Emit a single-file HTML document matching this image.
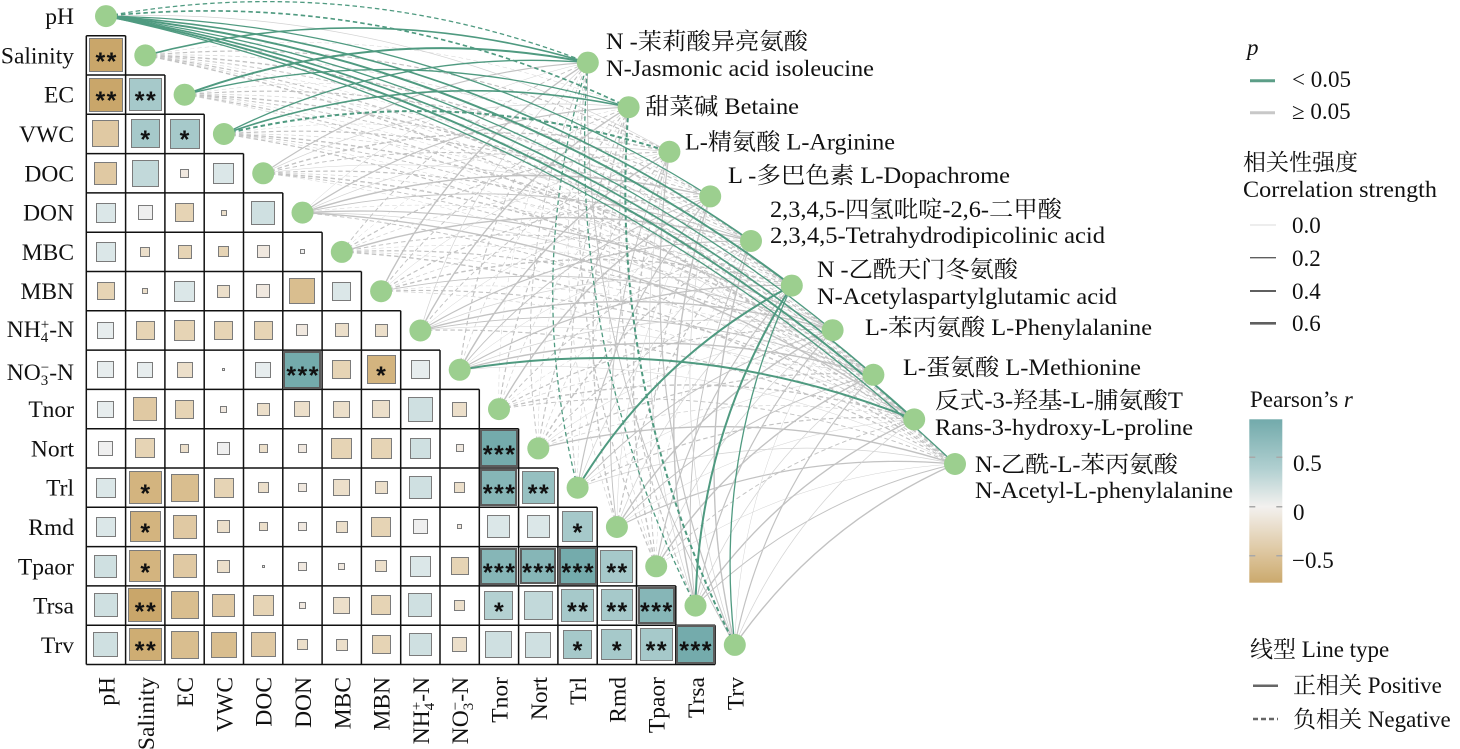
<!DOCTYPE html>
<html><head><meta charset="utf-8"><style>
body{margin:0;width:1460px;height:749px;overflow:hidden;background:#fff;position:relative}
svg{position:absolute;left:0;top:0}
.m{position:absolute;left:86.3px;top:35.7px}
.r{display:flex;height:39.3px}
.c{width:39.3px;height:39.3px;flex:none;display:flex;align-items:center;justify-content:center}
.c b{box-sizing:border-box;border:1.5px solid #7b7b7b;width:var(--s);height:var(--s);display:flex;align-items:center;justify-content:center;flex:none}
.c b.x{border:2px solid #5c5c5c}
.c span{font:bold 25px/25px "Liberation Sans",sans-serif;position:relative;top:7px;letter-spacing:1.5px;margin-left:1.5px;color:#111;white-space:nowrap}
.t9{background:#74abac}.t8{background:#86b6b7}.t7{background:#96c0c1}.t6{background:#a6c9ca}.t5{background:#b4d1d2}.t4{background:#c2d9da}.t3{background:#cfe0e1}.t2{background:#dbe7e8}.t1{background:#e7edee}.n0{background:#efefef}
.b1{background:#f0e8df}.b2{background:#ecdfca}.b3{background:#e6d4b5}.b4{background:#e0c9a3}.b5{background:#d9be8f}.b6{background:#d3b47f}.b7{background:#cead73}.b8{background:#c9a66a}
.l{font-family:"Liberation Serif","Noto Serif CJK SC",serif;font-size:23.5px;fill:#111}
.t{font-family:"Liberation Serif","Noto Serif CJK SC",serif;font-size:23px;fill:#111}
</style></head><body>
<svg width="1460" height="749" viewBox="0 0 1460 749">
<g id="eg" fill="none"></g>
<path d="M86.3 35.7V664.5M125.6 35.7V664.5M164.9 75V664.5M204.2 114.3V664.5M243.5 153.6V664.5M282.8 192.9V664.5M322.1 232.2V664.5M361.4 271.5V664.5M400.7 310.8V664.5M440 350.1V664.5M479.3 389.4V664.5M518.6 428.7V664.5M557.9 468V664.5M597.2 507.3V664.5M636.5 546.6V664.5M675.8 585.9V664.5M715.1 625.2V664.5M86.3 35.7H125.6M86.3 75H164.9M86.3 114.3H204.2M86.3 153.6H243.5M86.3 192.9H282.8M86.3 232.2H322.1M86.3 271.5H361.4M86.3 310.8H400.7M86.3 350.1H440M86.3 389.4H479.3M86.3 428.7H518.6M86.3 468H557.9M86.3 507.3H597.2M86.3 546.6H636.5M86.3 585.9H675.8M86.3 625.2H715.1M86.3 664.5H715.1" stroke="#111" stroke-width="1.5" fill="none"/>
<g fill="#9ccf8f">
<circle cx="106" cy="16.1" r="11"/><circle cx="145.3" cy="55.4" r="11"/><circle cx="184.6" cy="94.7" r="11"/><circle cx="223.9" cy="134" r="11"/><circle cx="263.2" cy="173.3" r="11"/><circle cx="302.5" cy="212.6" r="11"/><circle cx="341.8" cy="251.9" r="11"/><circle cx="381.1" cy="291.2" r="11"/><circle cx="420.4" cy="330.5" r="11"/><circle cx="459.7" cy="369.8" r="11"/><circle cx="499" cy="409.1" r="11"/><circle cx="538.3" cy="448.4" r="11"/><circle cx="577.6" cy="487.7" r="11"/><circle cx="616.9" cy="527" r="11"/><circle cx="656.2" cy="566.3" r="11"/><circle cx="695.5" cy="605.6" r="11"/><circle cx="734.8" cy="644.9" r="11"/>
<circle cx="587.8" cy="62.6" r="11"/><circle cx="628.6" cy="107.2" r="11"/><circle cx="669.4" cy="151.8" r="11"/><circle cx="710.2" cy="196.4" r="11"/><circle cx="751" cy="241" r="11"/><circle cx="791.8" cy="285.6" r="11"/><circle cx="832.6" cy="330.2" r="11"/><circle cx="873.4" cy="374.8" r="11"/><circle cx="914.2" cy="419.4" r="11"/><circle cx="955" cy="464" r="11"/>
</g>
<g class="l" text-anchor="end">
<text x="74" y="24">pH</text><text x="74" y="63.4">Salinity</text><text x="74" y="102.7">EC</text><text x="74" y="142">VWC</text><text x="74" y="181.3">DOC</text><text x="74" y="220.6">DON</text><text x="74" y="259.9">MBC</text><text x="74" y="299.2">MBN</text>
<text x="74" y="337">NH<tspan dy="5" font-size="15">4</tspan><tspan dx="-7.5" dy="-13" font-size="15">+</tspan><tspan dy="8">-N</tspan></text>
<text x="74" y="380">NO<tspan dy="5" font-size="15">3</tspan><tspan dx="-7.5" dy="-13" font-size="15">−</tspan><tspan dy="8">-N</tspan></text>
<text x="74" y="417.1">Tnor</text><text x="74" y="456.4">Nort</text><text x="74" y="495.7">Trl</text><text x="74" y="535">Rmd</text><text x="74" y="574.3">Tpaor</text><text x="74" y="613.6">Trsa</text><text x="74" y="652.9">Trv</text>
<text transform="translate(114.5 677) rotate(-90)">pH</text>
<text transform="translate(153.8 677) rotate(-90)">Salinity</text>
<text transform="translate(193.1 677) rotate(-90)">EC</text>
<text transform="translate(232.4 677) rotate(-90)">VWC</text>
<text transform="translate(271.7 677) rotate(-90)">DOC</text>
<text transform="translate(311 677) rotate(-90)">DON</text>
<text transform="translate(350.3 677) rotate(-90)">MBC</text>
<text transform="translate(389.6 677) rotate(-90)">MBN</text>
<text transform="translate(428.9 677) rotate(-90)">NH<tspan dy="5" font-size="15">4</tspan><tspan dx="-7.5" dy="-13" font-size="15">+</tspan><tspan dy="8">-N</tspan></text>
<text transform="translate(468.2 677) rotate(-90)">NO<tspan dy="5" font-size="15">3</tspan><tspan dx="-7.5" dy="-13" font-size="15">−</tspan><tspan dy="8">-N</tspan></text>
<text transform="translate(507.5 677) rotate(-90)">Tnor</text>
<text transform="translate(546.8 677) rotate(-90)">Nort</text>
<text transform="translate(586.1 677) rotate(-90)">Trl</text>
<text transform="translate(625.4 677) rotate(-90)">Rmd</text>
<text transform="translate(664.7 677) rotate(-90)">Tpaor</text>
<text transform="translate(704 677) rotate(-90)">Trsa</text>
<text transform="translate(743.3 677) rotate(-90)">Trv</text>
</g>
<g class="t">
<text x="606" y="49" textLength="202" lengthAdjust="spacingAndGlyphs">N -茉莉酸异亮氨酸</text>
<text x="606" y="76" textLength="268" lengthAdjust="spacingAndGlyphs">N-Jasmonic acid isoleucine</text>
<text x="645" y="114" textLength="154" lengthAdjust="spacingAndGlyphs">甜菜碱 Betaine</text>
<text x="685" y="149.5" textLength="210" lengthAdjust="spacingAndGlyphs">L-精氨酸 L-Arginine</text>
<text x="728" y="183" textLength="282" lengthAdjust="spacingAndGlyphs">L -多巴色素 L-Dopachrome</text>
<text x="770" y="217" textLength="292" lengthAdjust="spacingAndGlyphs">2,3,4,5-四氢吡啶-2,6-二甲酸</text>
<text x="770" y="243" textLength="335" lengthAdjust="spacingAndGlyphs">2,3,4,5-Tetrahydrodipicolinic acid</text>
<text x="817" y="277" textLength="201" lengthAdjust="spacingAndGlyphs">N -乙酰天门冬氨酸</text>
<text x="817" y="304" textLength="300" lengthAdjust="spacingAndGlyphs">N-Acetylaspartylglutamic acid</text>
<text x="865" y="335" textLength="287" lengthAdjust="spacingAndGlyphs">L-苯丙氨酸 L-Phenylalanine</text>
<text x="903" y="375" textLength="238" lengthAdjust="spacingAndGlyphs">L-蛋氨酸 L-Methionine</text>
<text x="935" y="408" textLength="248" lengthAdjust="spacingAndGlyphs">反式-3-羟基-L-脯氨酸T</text>
<text x="935" y="435" textLength="258" lengthAdjust="spacingAndGlyphs">Rans-3-hydroxy-L-proline</text>
<text x="975" y="472" textLength="203" lengthAdjust="spacingAndGlyphs">N-乙酰-L-苯丙氨酸</text>
<text x="975" y="498" textLength="258" lengthAdjust="spacingAndGlyphs">N-Acetyl-L-phenylalanine</text>
</g>
<g class="t">
<text x="1247" y="55" font-style="italic">p</text>
<text x="1292" y="87">&lt; 0.05</text>
<text x="1292" y="119">≥ 0.05</text>
<text x="1243" y="170">相关性强度</text>
<text x="1243" y="197" textLength="194" lengthAdjust="spacingAndGlyphs">Correlation strength</text>
<text x="1292" y="233">0.0</text>
<text x="1292" y="266">0.2</text>
<text x="1292" y="299">0.4</text>
<text x="1292" y="331">0.6</text>
<text x="1250" y="407">Pearson’s <tspan font-style="italic">r</tspan></text>
<text x="1293" y="471">0.5</text>
<text x="1293" y="520">0</text>
<text x="1292" y="568">−0.5</text>
<text x="1250" y="657">线型 Line type</text>
<text x="1293" y="693">正相关 Positive</text>
<text x="1293" y="727">负相关 Negative</text>
</g>
<line x1="1250" y1="80.7" x2="1275" y2="80.7" stroke="#5c9e87" stroke-width="3"/>
<line x1="1250" y1="112.7" x2="1275" y2="112.7" stroke="#c8c8c8" stroke-width="3"/>
<line x1="1250" y1="225" x2="1276" y2="225" stroke="#cfcfcf" stroke-width="0.7"/>
<line x1="1250" y1="257.7" x2="1276" y2="257.7" stroke="#5f5f5f" stroke-width="1.3"/>
<line x1="1250" y1="291" x2="1276" y2="291" stroke="#5f5f5f" stroke-width="1.9"/>
<line x1="1250" y1="323.3" x2="1276" y2="323.3" stroke="#5f5f5f" stroke-width="2.6"/>
<defs><linearGradient id="cb" x1="0" y1="0" x2="0" y2="1">
<stop offset="0" stop-color="#72aaab"/><stop offset="0.3" stop-color="#b0cfd0"/><stop offset="0.535" stop-color="#f3f1ef"/><stop offset="0.83" stop-color="#dcc49b"/><stop offset="1" stop-color="#cba96d"/>
</linearGradient></defs>
<rect x="1249.3" y="419.3" width="33" height="163.4" fill="url(#cb)"/>
<path d="M1249.3 457.3h6M1276.3 457.3h6M1249.3 506.7h6M1276.3 506.7h6M1249.3 555.7h6M1276.3 555.7h6" stroke="#a8a8a8" stroke-width="1.5"/>
<line x1="1253" y1="685.7" x2="1278" y2="685.7" stroke="#666" stroke-width="2.5"/>
<line x1="1253" y1="719" x2="1278" y2="719" stroke="#666" stroke-width="2.5" stroke-dasharray="5 3"/>
</svg>

<div class="m">
<div class="r"><div class="c"><b class="b8" style="--s:34px"><span>**</span></b></div></div>
<div class="r"><div class="c"><b class="b8" style="--s:34px"><span>**</span></b></div><div class="c"><b class="t6" style="--s:33px"><span>**</span></b></div></div>
<div class="r"><div class="c"><b class="b4" style="--s:27px"></b></div><div class="c"><b class="t6" style="--s:29px"><span>*</span></b></div><div class="c"><b class="t6" style="--s:30px"><span>*</span></b></div></div>
<div class="r"><div class="c"><b class="b4" style="--s:23px"></b></div><div class="c"><b class="t4" style="--s:27px"></b></div><div class="c"><b class="b1" style="--s:9px"></b></div><div class="c"><b class="t2" style="--s:21px"></b></div></div>
<div class="r"><div class="c"><b class="t2" style="--s:20px"></b></div><div class="c"><b class="n0" style="--s:15px"></b></div><div class="c"><b class="b3" style="--s:19px"></b></div><div class="c"><b class="b2" style="--s:6px"></b></div><div class="c"><b class="t3" style="--s:24px"></b></div></div>
<div class="r"><div class="c"><b class="t2" style="--s:20px"></b></div><div class="c"><b class="b2" style="--s:10px"></b></div><div class="c"><b class="b3" style="--s:14px"></b></div><div class="c"><b class="b3" style="--s:11px"></b></div><div class="c"><b class="b1" style="--s:13px"></b></div><div class="c"><b class="n0" style="--s:5px"></b></div></div>
<div class="r"><div class="c"><b class="b3" style="--s:18px"></b></div><div class="c"><b class="b2" style="--s:6px"></b></div><div class="c"><b class="t2" style="--s:21px"></b></div><div class="c"><b class="b2" style="--s:13px"></b></div><div class="c"><b class="b1" style="--s:14px"></b></div><div class="c"><b class="b5" style="--s:26px"></b></div><div class="c"><b class="t2" style="--s:19px"></b></div></div>
<div class="r"><div class="c"><b class="t1" style="--s:17px"></b></div><div class="c"><b class="b3" style="--s:19px"></b></div><div class="c"><b class="b3" style="--s:21px"></b></div><div class="c"><b class="b3" style="--s:19px"></b></div><div class="c"><b class="b3" style="--s:19px"></b></div><div class="c"><b class="b1" style="--s:12px"></b></div><div class="c"><b class="b2" style="--s:14px"></b></div><div class="c"><b class="b2" style="--s:13px"></b></div></div>
<div class="r"><div class="c"><b class="t1" style="--s:17px"></b></div><div class="c"><b class="t1" style="--s:16px"></b></div><div class="c"><b class="b2" style="--s:16px"></b></div><div class="c"><b class="n0" style="--s:3px"></b></div><div class="c"><b class="t1" style="--s:16px"></b></div><div class="c"><b class="t9 x" style="--s:38px"><span>***</span></b></div><div class="c"><b class="b3" style="--s:19px"></b></div><div class="c"><b class="b6" style="--s:29px"><span>*</span></b></div><div class="c"><b class="t1" style="--s:19px"></b></div></div>
<div class="r"><div class="c"><b class="t1" style="--s:17px"></b></div><div class="c"><b class="b4" style="--s:24px"></b></div><div class="c"><b class="b3" style="--s:19px"></b></div><div class="c"><b class="b1" style="--s:7px"></b></div><div class="c"><b class="b2" style="--s:13px"></b></div><div class="c"><b class="b2" style="--s:16px"></b></div><div class="c"><b class="b2" style="--s:17px"></b></div><div class="c"><b class="b2" style="--s:18px"></b></div><div class="c"><b class="t3" style="--s:25px"></b></div><div class="c"><b class="b2" style="--s:15px"></b></div></div>
<div class="r"><div class="c"><b class="n0" style="--s:15px"></b></div><div class="c"><b class="b3" style="--s:20px"></b></div><div class="c"><b class="b2" style="--s:9px"></b></div><div class="c"><b class="n0" style="--s:13px"></b></div><div class="c"><b class="b2" style="--s:9px"></b></div><div class="c"><b class="b1" style="--s:9px"></b></div><div class="c"><b class="b3" style="--s:21px"></b></div><div class="c"><b class="b3" style="--s:21px"></b></div><div class="c"><b class="t3" style="--s:21px"></b></div><div class="c"><b class="b1" style="--s:8px"></b></div><div class="c"><b class="t9 x" style="--s:38px"><span>***</span></b></div></div>
<div class="r"><div class="c"><b class="t2" style="--s:20px"></b></div><div class="c"><b class="b6" style="--s:33px"><span>*</span></b></div><div class="c"><b class="b5" style="--s:28px"></b></div><div class="c"><b class="b3" style="--s:20px"></b></div><div class="c"><b class="b2" style="--s:11px"></b></div><div class="c"><b class="b1" style="--s:9px"></b></div><div class="c"><b class="b2" style="--s:17px"></b></div><div class="c"><b class="b2" style="--s:13px"></b></div><div class="c"><b class="t3" style="--s:23px"></b></div><div class="c"><b class="b2" style="--s:11px"></b></div><div class="c"><b class="t8 x" style="--s:37px"><span>***</span></b></div><div class="c"><b class="t7" style="--s:33px"><span>**</span></b></div></div>
<div class="r"><div class="c"><b class="t2" style="--s:20px"></b></div><div class="c"><b class="b6" style="--s:31px"><span>*</span></b></div><div class="c"><b class="b4" style="--s:24px"></b></div><div class="c"><b class="b2" style="--s:13px"></b></div><div class="c"><b class="b2" style="--s:9px"></b></div><div class="c"><b class="b1" style="--s:9px"></b></div><div class="c"><b class="b2" style="--s:12px"></b></div><div class="c"><b class="b3" style="--s:20px"></b></div><div class="c"><b class="n0" style="--s:15px"></b></div><div class="c"><b class="b1" style="--s:5px"></b></div><div class="c"><b class="t2" style="--s:23px"></b></div><div class="c"><b class="t2" style="--s:23px"></b></div><div class="c"><b class="t6" style="--s:31px"><span>*</span></b></div></div>
<div class="r"><div class="c"><b class="t3" style="--s:23px"></b></div><div class="c"><b class="b6" style="--s:32px"><span>*</span></b></div><div class="c"><b class="b4" style="--s:24px"></b></div><div class="c"><b class="b2" style="--s:13px"></b></div><div class="c"><b class="n0" style="--s:3px"></b></div><div class="c"><b class="b1" style="--s:9px"></b></div><div class="c"><b class="b1" style="--s:7px"></b></div><div class="c"><b class="b2" style="--s:12px"></b></div><div class="c"><b class="t2" style="--s:21px"></b></div><div class="c"><b class="b3" style="--s:18px"></b></div><div class="c"><b class="t8 x" style="--s:37px"><span>***</span></b></div><div class="c"><b class="t8 x" style="--s:36px"><span>***</span></b></div><div class="c"><b class="t9 x" style="--s:38px"><span>***</span></b></div><div class="c"><b class="t6" style="--s:33px"><span>**</span></b></div></div>
<div class="r"><div class="c"><b class="t3" style="--s:24px"></b></div><div class="c"><b class="b8" style="--s:34px"><span>**</span></b></div><div class="c"><b class="b5" style="--s:28px"></b></div><div class="c"><b class="b4" style="--s:23px"></b></div><div class="c"><b class="b3" style="--s:21px"></b></div><div class="c"><b class="b1" style="--s:7px"></b></div><div class="c"><b class="b2" style="--s:17px"></b></div><div class="c"><b class="b3" style="--s:20px"></b></div><div class="c"><b class="t3" style="--s:24px"></b></div><div class="c"><b class="b2" style="--s:11px"></b></div><div class="c"><b class="t5" style="--s:29px"><span>*</span></b></div><div class="c"><b class="t4" style="--s:29px"></b></div><div class="c"><b class="t6" style="--s:33px"><span>**</span></b></div><div class="c"><b class="t6" style="--s:32px"><span>**</span></b></div><div class="c"><b class="t8 x" style="--s:37px"><span>***</span></b></div></div>
<div class="r"><div class="c"><b class="t3" style="--s:25px"></b></div><div class="c"><b class="b7" style="--s:33px"><span>**</span></b></div><div class="c"><b class="b5" style="--s:28px"></b></div><div class="c"><b class="b5" style="--s:26px"></b></div><div class="c"><b class="b4" style="--s:25px"></b></div><div class="c"><b class="b2" style="--s:11px"></b></div><div class="c"><b class="b2" style="--s:12px"></b></div><div class="c"><b class="b3" style="--s:19px"></b></div><div class="c"><b class="t3" style="--s:23px"></b></div><div class="c"><b class="b2" style="--s:15px"></b></div><div class="c"><b class="t3" style="--s:27px"></b></div><div class="c"><b class="t3" style="--s:26px"></b></div><div class="c"><b class="t6" style="--s:29px"><span>*</span></b></div><div class="c"><b class="t6" style="--s:31px"><span>*</span></b></div><div class="c"><b class="t6" style="--s:33px"><span>**</span></b></div><div class="c"><b class="t9 x" style="--s:39px"><span>***</span></b></div></div>
</div>

<script>
(function(){
var C=["ggSGGGGGGG","Gddddddddd","GGdddddddd","GGgddddddd","SSddSddddd","SSSSSdSSSd","ddddSddddd","SdSdddSddd","SSdSSSSSSd","ddSSSSSSGS","dddSdddddd","ddddddSddS","gddSSGSSdS","ddSSdSSSSS","dddddSSSdS","gdSSSGSSSS","SgSSSGSSSS"];
var a='',b='';
for(var k=0;k<17;k++){for(var m=0;m<10;m++){
var c=C[k].charAt(m);
var sx=106+39.3*k,sy=16.1+39.3*k,tx=587.8+40.8*m,ty=62.6+44.6*m;
var dx=tx-sx,dy=ty-sy;
var qx=(sx+tx)/2+0.14*dy,qy=(sy+ty)/2-0.14*dx;
var G=(c=='G'||c=='g'),D=(c=='g'||c=='d');
var w=G?(1.3+((k+m)%3)*0.35):(0.5+((k*7+m*3)%5)*0.22);
var col=G?'#4f9a80':(w<0.8?'#d3d3d3':'#c2c2c2');
var s='<path d="M'+sx.toFixed(1)+' '+sy.toFixed(1)+'Q'+qx.toFixed(1)+' '+qy.toFixed(1)+' '+tx.toFixed(1)+' '+ty.toFixed(1)+'" stroke="'+col+'" stroke-width="'+w.toFixed(2)+'"'+(D?' stroke-dasharray="4.5 3"':'')+'/>';
if(G)b+=s;else a+=s;
}}
document.getElementById('eg').innerHTML=a+b;
})();
</script>
</body></html>
